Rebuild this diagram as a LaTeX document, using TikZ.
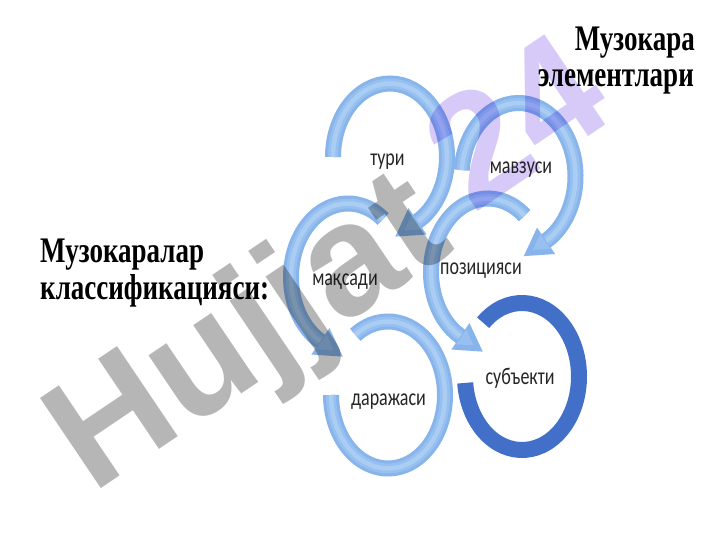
\documentclass[tikz,border=0pt]{standalone}
\usepackage{fontspec}
\newfontfamily\titlefont{Liberation Serif}[FakeStretch=0.75]
\newfontfamily\labfont{Carlito}[FakeStretch=0.75]
\newfontfamily\labfallback{Noto Sans}[FakeStretch=0.72]
\newfontfamily\wmfont{Liberation Sans}
\definecolor{ringA}{HTML}{86B4EB}
\definecolor{ringB}{HTML}{97C0F0}
\definecolor{ringC}{HTML}{AACDF4}
\definecolor{subj}{HTML}{4270C8}
\definecolor{wmgray}{RGB}{182,182,182}
\definecolor{wmlav}{RGB}{216,202,248}
\newcommand\qk{\iffontchar\font"049B\relax қ\else{\labfallback қ}\fi}
\newcommand\ringband[4]{%
  \foreach \w/\c in {16/ringA,10/ringB,4.5/ringC}{%
    \draw[line width=\w pt,\c] ({#1+57*cos(#3)},{#2+73.5*sin(#3)})
      arc[start angle=#3,end angle=#4,x radius=57,y radius=73.5];}}
\newcommand\arrowhd[4]{%
  \pgfmathsetmacro\ex{#1+57*cos(#3)}%
  \pgfmathsetmacro\ey{#2+73.5*sin(#3)}%
  \pgfmathsetmacro\tx{-(#4)*57*sin(#3)}%
  \pgfmathsetmacro\ty{(#4)*73.5*cos(#3)}%
  \pgfmathsetmacro\tn{veclen(\tx,\ty)}%
  \pgfmathsetmacro\ux{\tx/\tn}%
  \pgfmathsetmacro\uy{\ty/\tn}%
  \fill[ringA]
    ({\ex-16*\uy-1*\ux},{\ey+16*\ux-1*\uy}) --
    ({\ex+16*\uy-1*\ux},{\ey-16*\ux-1*\uy}) --
    ({\ex+26*\ux},{\ey+26*\uy}) -- cycle;
  \fill[ringB]
    ({\ex-9*\uy},{\ey+9*\ux}) --
    ({\ex+9*\uy},{\ey-9*\ux}) --
    ({\ex+15*\ux},{\ey+15*\uy}) -- cycle;}
\tikzset{
  lab/.style={font=\labfont\fontsize{24}{26}\selectfont, inner sep=0pt, text=black!85},
  ttl/.style={font=\titlefont\bfseries\fontsize{36}{37}\selectfont, inner sep=0pt, text=black},
  wm/.style={font=\wmfont\bfseries\fontsize{158}{158}\selectfont, inner sep=0pt}
}
\begin{document}
\begin{tikzpicture}[x=1pt,y=1pt]
\useasboundingbox (0,0) rectangle (720,540);
\fill[white] (0,0) rectangle (720,540);
% rings (y up: Y = 540 - y)
\ringband{390}{383}{180}{-62}
\arrowhd{390}{383}{-62}{-1}
\ringband{518.5}{363.5}{175}{-62}
\arrowhd{518.5}{363.5}{-62}{-1}
\ringband{348}{263}{52}{242}
\arrowhd{348}{263}{242}{1}
\ringband{488}{268}{50}{242}
\arrowhd{488}{268}{242}{1}
\ringband{388}{145}{125}{-180}
\draw[line width=16pt, subj] ({522+57*cos(133)},{163.5+73.5*sin(133)})
  arc[start angle=133,end angle=-175,x radius=57,y radius=73.5];
% labels
\node[lab, anchor=base] (turi) at (387.5,374) {тури};
\node[lab, anchor=base] (mavzu) at (521,366) {мавзуси};
\node[lab, anchor=base] (maqsad) at (345,254) {ма\qk сади};
\node[lab, anchor=base] (pozit) at (481,265) {позицияси};
\node[lab, anchor=base] (daraj) at (388.5,134) {даражаси};
\node[lab, anchor=base] (subyekt) at (520,155) {субъекти};
% titles
\node[ttl, anchor=base east] (t1) at (695,489) {Музокара};
\node[ttl, anchor=base east] (t2) at (694,453) {элементлари};
\node[ttl, anchor=base west] (c1) at (40,277) {Музокаралар};
\node[ttl, anchor=base west] (c2) at (40,240) {классификацияси:};
% watermark
\begin{scope}[blend mode=multiply]
\node[wm, text=wmgray, rotate=34] (wm1) at (252,202) {Hujjat};
\node[wm, text=wmlav, rotate=34] (wm2) at (515,420) {24};
\end{scope}
\end{tikzpicture}
\end{document}
